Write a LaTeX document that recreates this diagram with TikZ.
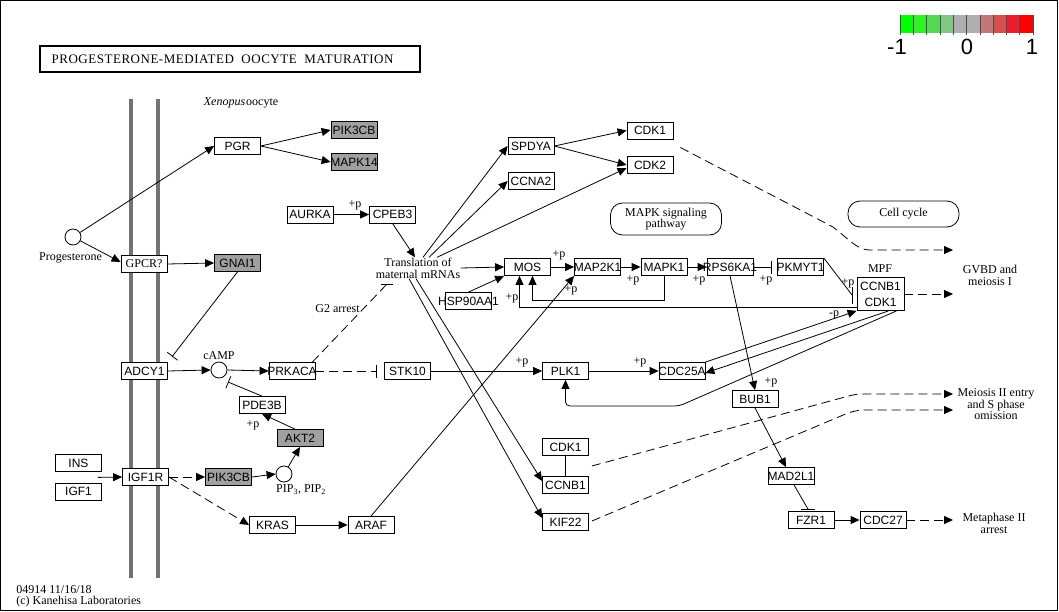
\documentclass[tikz,border=0pt]{standalone}
\usepackage{fontspec}
\setmainfont{Liberation Serif}
\newfontfamily\genefont{Liberation Sans}
\newfontfamily\titlefont[LetterSpace=4]{Liberation Serif}
\usetikzlibrary{positioning, arrows.meta, calc}

\definecolor{hitgray}{RGB}{160,160,160}
\definecolor{membrane}{RGB}{115,115,115}
\definecolor{lgA}{RGB}{0,255,0}
\definecolor{lgB}{RGB}{50,240,40}
\definecolor{lgC}{RGB}{85,215,85}
\definecolor{lgD}{RGB}{130,200,130}
\definecolor{lgE}{RGB}{175,175,175}
\definecolor{lgF}{RGB}{175,175,175}
\definecolor{lgG}{RGB}{195,120,120}
\definecolor{lgH}{RGB}{215,80,80}
\definecolor{lgI}{RGB}{235,30,45}
\definecolor{lgJ}{RGB}{255,0,0}

\begin{document}
\begin{tikzpicture}[
    x=1pt, y=-1pt,
    >={Triangle[length=9pt,width=8pt]},
    line width=0.8pt,
    arrow/.style={->},
    indirect/.style={
        ->,
        dash pattern=on 9pt off 5pt
    },
    inhib/.style={-{Bar[width=13pt]}},
    box/.style={
        rectangle,
        draw,
        fill=white,
        minimum width=46pt,
        minimum height=17pt,
        inner sep=0pt,
        font={\genefont\fontsize{12}{12}\selectfont}
    },
    gene/.style={
        box,
        execute at begin node={\hbox to 0pt\bgroup\hss},
        execute at end node={\hss\egroup}
    },
    hit/.style={
        gene,
        fill=hitgray
    },
    cpd/.style={
        circle,
        draw,
        fill=white,
        minimum size=16pt,
        inner sep=0pt
    },
    lbl/.style={
        inner sep=0pt,
        align=center,
        font={\fontsize{12}{12}\selectfont}
    },
    pmark/.style={
        inner sep=0pt,
        font={\fontsize{12}{12}\selectfont}
    },
    mapbox/.style={
        rectangle,
        draw,
        rounded corners=12pt,
        align=center,
        inner sep=0pt,
        font={\fontsize{12}{11}\selectfont}
    }
]

    % Frame
    \useasboundingbox (0,0) rectangle (1059,612);
    \draw[line width=1pt] (0.5,0.5) rectangle (1057,610.5);

    % Membrane
    \draw[membrane, line width=4.5pt] (131,99) -- (131,578);
    \draw[membrane, line width=4.5pt] (158,99) -- (158,578);

    % Legend
    \foreach \c [count=\i from 0] in {lgA,lgB,lgC,lgD,lgE,lgF,lgG,lgH,lgI,lgJ}
        \fill[\c] (900+13.3*\i,15) rectangle ++(13.3,18);
    \foreach \i in {0,...,10}
        \draw[line width=0.6pt, black!70] (900+13.3*\i,15) -- ++(0,20);
    \node[font={\genefont\fontsize{22}{22}\selectfont}] (lgmin) at (897,47) {-1};
    \node[font={\genefont\fontsize{22}{22}\selectfont}] (lgzero) at (967,47) {0};
    \node[font={\genefont\fontsize{22}{22}\selectfont}] (lgmax) at (1032,47) {1};

    % Title
    \node[draw, line width=1.5pt, minimum width=380pt, minimum height=26pt] (title) at (230,59) {};
    \node[right=12pt of title.west, inner sep=0pt, font={\titlefont\fontsize{13}{13}\selectfont}] (titletext) {PROGESTERONE-MEDIATED\ \ OOCYTE\ \ MATURATION};
    \node[lbl] (oocyte) at (241,103) {\textit{Xenopus}\kern1pt oocyte};

    % Membrane receptors
    \node[cpd] (prog) at (73,237) {};
    \node[lbl] (proglbl) at (70.5,258) {Progesterone};
    \node[gene] (pgr) at (237.5,146) {PGR};
    \node[hit] (pikA) at (354,130) {PIK3CB};
    \node[hit] (mapk14) at (354,162) {MAPK14};
    \node[gene, font={\fontsize{12}{12}\selectfont}] (gpcr) at (144,264) {GPCR?};
    \node[hit] (gnai1) at (237.5,263) {GNAI1};

    % cAMP branch
    \node[gene] (adcy1) at (144.5,371) {ADCY1};
    \node[cpd] (camp) at (219,370) {};
    \node[lbl] (camplbl) at (219,356) {cAMP};
    \node[gene] (prkaca) at (292,371) {PRKACA};
    \node[gene] (pde3b) at (262,405) {PDE3B};
    \node[hit] (akt2) at (300,438) {AKT2};

    % Insulin branch
    \node[gene] (ins) at (78.5,463) {INS};
    \node[gene, below=11pt of ins] (igf1) {IGF1};
    \node[gene] (igf1r) at (145.5,477) {IGF1R};
    \node[hit] (pikB) at (228.5,477) {PIK3CB};
    \node[cpd] (pip) at (284,474) {};
    \node[lbl] (piplbl) at (301,490) {PIP\textsubscript{3}, PIP\textsubscript{2}};
    \node[gene] (kras) at (272.5,525) {KRAS};
    \node[gene] (araf) at (371,525) {ARAF};

    % Translation
    \node[gene] (aurka) at (310,214.5) {AURKA};
    \node[gene] (cpeb3) at (392.5,214.5) {CPEB3};
    \node[lbl] (trans) at (418,268) {Translation of\\maternal mRNAs};
    \node[gene] (hsp90) at (468.5,301) {HSP90AA1};
    \node[gene] (spdya) at (531,146) {SPDYA};
    \node[gene] (ccna2) at (531,181) {CCNA2};
    \node[gene] (cdkA) at (650,130.5) {CDK1};
    \node[gene] (cdk2) at (650,165) {CDK2};
    \node[mapbox, minimum width=111pt, minimum height=32pt] (mapkpath) at (666,219) {MAPK signaling\\pathway};
    \node[mapbox, minimum width=111pt, minimum height=26pt] (cellcycle) at (903.5,214) {Cell cycle};

    % MAPK cascade
    \node[gene] (mos) at (527.5,267) {MOS};
    \node[gene] (map2k1) at (597.5,267) {MAP2K1};
    \node[gene] (mapk1) at (664,267) {MAPK1};
    \node[gene] (rps6ka1) at (730,267) {RPS6KA1};
    \node[gene] (pkmyt1) at (800.5,267) {PKMYT1};
    \node[box, align=center, minimum width=47pt, minimum height=33pt, font={\genefont\fontsize{12}{16}\selectfont}] (mpf) at (880.5,294) {CCNB1\\CDK1};
    \node[lbl] (mpflbl) at (880,269) {MPF};

    % Meiosis II
    \node[gene] (stk10) at (407.5,371) {STK10};
    \node[gene] (plk1) at (565.5,371) {PLK1};
    \node[gene] (cdc25a) at (682,371) {CDC25A};
    \node[gene] (bub1) at (755,399) {BUB1};
    \node[gene] (cdkB) at (565.5,447) {CDK1};
    \node[gene] (ccnbB) at (565.5,485) {CCNB1};
    \node[gene] (kif22) at (565.5,522) {KIF22};
    \node[gene] (mad2l1) at (791,476) {MAD2L1};
    \node[gene] (fzr1) at (811,520) {FZR1};
    \node[gene] (cdc27) at (883,520) {CDC27};

    % Outcomes
    \node[lbl] (gvbd) at (990,275) {GVBD and\\meiosis I};
    \node[lbl, font={\fontsize{12}{10.5}\selectfont}] (meioII) at (996,404) {Meiosis II entry\\and S phase\\omission};
    \node[lbl] (metaIIlbl) at (994,523) {Metaphase II\\arrest};
    \node[lbl] (g2lbl) at (337.5,309) {G2 arrest};
    \coordinate (gvbdA) at (953,250);
    \coordinate (gvbdB) at (953,294);
    \coordinate (meiA) at (953,394);
    \coordinate (meiB) at (953,410);
    \coordinate (metaII) at (953,520);
    \coordinate (g2bar) at (387,284);
    \coordinate (mytbar) at (852,295);
    \coordinate (fzrbar) at ($(fzr1.north)+(-3,-2)$);

    % Phosphorylation marks
    \node[pmark] (p1) at (355,205) {+p};
    \node[pmark] (p2) at (559,255) {+p};
    \node[pmark] (p3) at (571,290) {+p};
    \node[pmark] (p4) at (633,280) {+p};
    \node[pmark] (p5) at (699,280) {+p};
    \node[pmark] (p6) at (766,280) {+p};
    \node[pmark] (p7) at (848,283) {+p};
    \node[pmark] (p8) at (512,298) {+p};
    \node[pmark] (p9) at (522,362) {+p};
    \node[pmark] (p10) at (640,362) {+p};
    \node[pmark] (p11) at (253,425) {+p};
    \node[pmark] (p12) at (771,382) {+p};
    \node[pmark] (p13) at (834,315) {-p};

    % Footer
    \node[lbl, anchor=west] (stamp) at (16,590) {04914 11/16/18};
    \node[lbl, anchor=west] (copy) at (16,602) {(c) Kanehisa Laboratories};

    % Receptor connections
    \draw[arrow] (prog) -- (pgr.west);
    \draw[arrow] (prog) -- ([yshift=2pt]gpcr.west);
    \draw[arrow] (pgr.east) -- (pikA.west);
    \draw[arrow] (pgr.east) -- (mapk14.west);
    \draw[arrow] (gpcr.east) -- (gnai1.west);
    \draw[inhib, shorten >=7pt] (gnai1.south) -- (adcy1.north east);
    \draw[arrow] (adcy1.east) -- (camp.west);
    \draw[arrow] (camp.east) -- (prkaca.west);
    \draw[inhib] (pde3b.north) -- ($(camp)+(9,12)$);
    \draw[arrow] ([xshift=-5pt]akt2.north) -- (pde3b.south);
    \draw[arrow] ($(ins.south east)!0.5!(igf1.north east)+(-4,0)$) -- (igf1r.west);
    \draw[indirect] (igf1r.east) -- (pikB.west);
    \draw[indirect] (igf1r.east) -- (kras.west);
    \draw[arrow] (pikB.east) -- (pip.west);
    \draw[arrow] (pip) -- (akt2.south);
    \draw[arrow] (kras.east) -- (araf.west);
    \draw[arrow] (araf.north) -- (map2k1.south west);

    % PKA arrest
    \draw[dash pattern=on 9pt off 5pt] ($(prkaca.north east)+(-3,0)$) -- (g2bar);
    \draw ([xshift=-6pt]g2bar) -- ([xshift=6pt]g2bar);
    \draw[inhib, dash pattern=on 9pt off 5pt, shorten >=7pt] (prkaca.east) -- (stk10.west);
    \draw[arrow] (stk10.east) -- (plk1.west);
    \draw[arrow] (plk1.east) -- (cdc25a.west);

    % Translation
    \draw[arrow] (aurka.east) -- (cpeb3.west);
    \draw[arrow] (cpeb3.south) -- ([xshift=-3pt]trans.north);
    \draw[arrow] ([xshift=5pt]trans.north) -- (spdya.west);
    \draw[arrow] ([xshift=11pt]trans.north) -- (ccna2.west);
    \draw[arrow] ([xshift=19pt]trans.north) -- ([yshift=-3pt]cdk2.west);
    \draw[arrow] (trans.east) -- (mos.west);
    \draw[arrow] ([xshift=-9pt]trans.south) -- ([yshift=4pt]kif22.west);
    \draw[arrow] ([xshift=-2pt]trans.south) -- ([yshift=4pt]ccnbB.west);
    \draw[arrow] (spdya.east) -- (cdkA.west);
    \draw[arrow] (spdya.east) -- (cdk2.west);
    \draw[arrow] (hsp90.north) -- (mos.south west);

    % MAPK cascade
    \draw[arrow] (mos.east) -- (map2k1.west);
    \draw[arrow] (map2k1.east) -- (mapk1.west);
    \draw[arrow] (mapk1.east) -- (rps6ka1.west);
    \draw[inhib, shorten >=5pt] (rps6ka1.east) -- (pkmyt1.west);
    \draw[arrow] (mapk1.south) -- ++(0,24) -| ($(mos.south)+(5,0)$);
    \draw[arrow] ($(mpf.west)+(0,13)$) -| ($(mos.south)+(-8,0)$);
    \draw (pkmyt1.north east) -- (mytbar);
    \draw ([yshift=8pt]mytbar) -- ([yshift=-9pt]mytbar);

    % MPF loop
    \draw[arrow] (cdc25a.north east) -- (mpf.south west);
    \draw[arrow] ($(mpf.south)+(8,0)$) -- ($(cdc25a.east)+(0,2)$);
    \draw[arrow, rounded corners=4pt] ($(mpf.south)+(16,0)$) -- ($(plk1.south)+(114,26)$) -| (plk1.south);
    \draw[arrow] (rps6ka1.south) -- (bub1.north);
    \draw[arrow] (bub1.south) -- ($(mad2l1.north)+(-5,0)$);
    \draw ($(mad2l1.south)+(3,0)$) -- (fzrbar);
    \draw ([xshift=-7pt]fzrbar) -- ([xshift=7pt]fzrbar);
    \draw[arrow] (fzr1.east) -- (cdc27.west);
    \draw (cdkB.south) -- (ccnbB.north);

    % Outcomes
    \draw[indirect] ($(cdkA.east)+(7,17)$) -- (833,227) .. controls (852,242) and (858,250) .. (870,250) -- (gvbdA);
    \draw[indirect] (mpf.east) -- (gvbdB);
    \draw[indirect] ($(cdkB.south east)!0.5!(ccnbB.north east)+(3,0)$) -- (845,397) .. controls (856,394) .. (870,394) -- (meiA);
    \draw[indirect] ($(kif22.east)+(3,-1)$) -- (848,413) .. controls (858,410) .. (872,410) -- (meiB);
    \draw[indirect] (cdc27.east) -- (metaII);

\end{tikzpicture}
\end{document}
